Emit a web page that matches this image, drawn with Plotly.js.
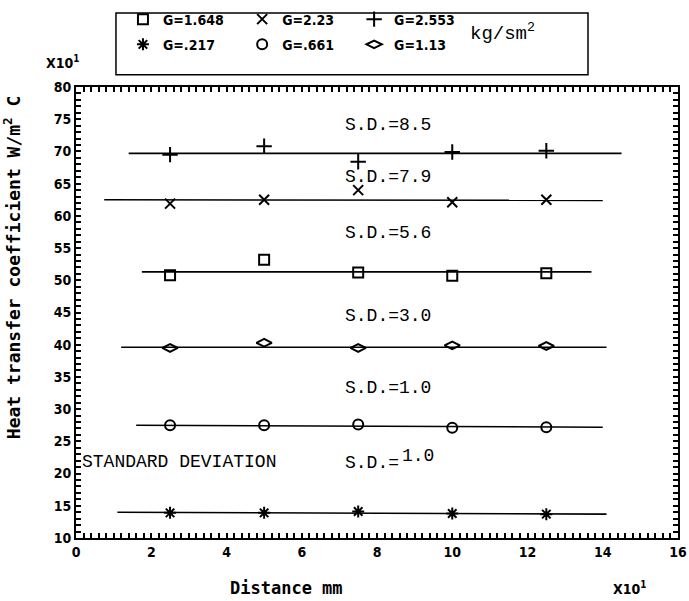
<!DOCTYPE html>
<html>
<head>
<meta charset="utf-8">
<script src="https://cdn.plot.ly/plotly-3.0.1.min.js"></script>
<style>
  html, body { margin: 0; padding: 0; background: #fff; }
  #chart { width: 689px; height: 601px; }
</style>
</head>
<body>
<div id="chart"></div>
<script>
// ---- data (distance in units of 10 mm, h in units of 10 W/m2C) ----
const distance = [2.5, 5, 7.5, 10, 12.5];
const hG1648 = [50.8, 53.2, 51.2, 50.7, 51.1];
const hG223  = [61.9, 62.5, 64.0, 62.1, 62.5];
const hG2553 = [69.5, 70.8, 68.4, 69.9, 70.1];
const hG217  = [13.9, 13.9, 14.1, 13.8, 13.7];
const hG661  = [27.5, 27.5, 27.6, 27.1, 27.2];
const hG113  = [39.5, 40.3, 39.5, 39.9, 39.8];

// fitted (mean) lines: x extent and y at ends
const fitG1648X = [1.75, 13.7], fitG1648Y = [51.3, 51.3];
const fitG223X  = [0.75, 14.0], fitG223Y  = [62.5, 62.4];
const fitG2553X = [1.4, 14.5],  fitG2553Y = [69.7, 69.7];
const fitG217X  = [1.1, 14.1],  fitG217Y  = [14.0, 13.7];
const fitG661X  = [1.6, 14.0],  fitG661Y  = [27.5, 27.2];
const fitG113X  = [1.2, 14.1],  fitG113Y  = [39.6, 39.6];

const seriesNames = ['G=1.648', 'G=2.23', 'G=2.553', 'G=.217', 'G=.661', 'G=1.13'];
const sdLabels = ['S.D.=8.5', 'S.D.=7.9', 'S.D.=5.6', 'S.D.=3.0', 'S.D.=1.0'];

// ---- styling ----
const tickFont = {family: 'DejaVu Sans Condensed, Liberation Sans Narrow, DejaVu Sans', size: 14, color: '#000', weight: 'bold'};
const monoFont = {family: 'Liberation Mono, DejaVu Sans Mono, monospace', size: 18, color: '#000'};
const boldMono = {family: 'DejaVu Sans Mono, Liberation Mono, monospace', size: 17, color: '#000', weight: 'bold'};

function markerTrace(y, name, symbol, size, legend, group) {
  return {
    x: distance, y: y, name: name, mode: 'markers', type: 'scatter',
    marker: {symbol: symbol, size: size, color: '#000', line: {color: '#000', width: 2}},
    legend: legend, legendgroup: group, showlegend: true, hoverinfo: 'skip'
  };
}
function lineTrace(x, y) {
  return {x: x, y: y, mode: 'lines', type: 'scatter', showlegend: false,
          line: {color: '#000', width: 1.6}, hoverinfo: 'skip'};
}

const traces = [
  lineTrace(fitG1648X, fitG1648Y), lineTrace(fitG223X, fitG223Y), lineTrace(fitG2553X, fitG2553Y),
  lineTrace(fitG217X, fitG217Y), lineTrace(fitG661X, fitG661Y), lineTrace(fitG113X, fitG113Y),
  markerTrace(hG1648, seriesNames[0], 'square-open', 10, 'legend', 'a'),
  markerTrace(hG217,  seriesNames[3], 'asterisk-open', 10, 'legend', 'b'),
  markerTrace(hG223,  seriesNames[1], 'x-thin-open', 10, 'legend2', 'c'),
  markerTrace(hG661,  seriesNames[4], 'circle-open', 10, 'legend2', 'd'),
  markerTrace(hG2553, seriesNames[2], 'cross-thin-open', 11, 'legend3', 'e'),
  markerTrace(hG113,  seriesNames[5], 'diamond-wide-open', 11, 'legend3', 'f')
];

function legendAt(xp) {
  return {x: xp, xanchor: 'left', y: 1.185, yanchor: 'top', orientation: 'v',
          bgcolor: 'rgba(0,0,0,0)', borderwidth: 0, tracegroupgap: 4,
          font: {family: tickFont.family, size: 14, color: '#000', weight: 'bold'}};
}

const annotations = sdLabels.map((t, i) => ({
  x: 8.3, y: [74.1, 66.0, 57.4, 44.4, 33.3][i], xref: 'x', yref: 'y',
  text: t, showarrow: false, font: monoFont, xanchor: 'center', yanchor: 'middle'
}));
annotations.push(
  {x: 0.1, y: 21.8, xref: 'x', yref: 'y', text: 'STANDARD DEVIATION', showarrow: false,
   font: monoFont, xanchor: 'left', yanchor: 'middle'},
  {x: 7.1, y: 21.6, xref: 'x', yref: 'y', text: 'S.D.=', showarrow: false,
   font: monoFont, xanchor: 'left', yanchor: 'middle'},
  {x: 8.6, y: 22.8, xref: 'x', yref: 'y', text: '1.0', showarrow: false,
   font: monoFont, xanchor: 'left', yanchor: 'middle'},
  {x: 0.651, y: 1.12, xref: 'paper', yref: 'paper', text: 'kg/sm<sup>2</sup>', showarrow: false,
   font: {family: monoFont.family, size: 19, color: '#000'}, xanchor: 'left', yanchor: 'middle'},
  // axis titles
  {x: 0.35, y: -0.11, xref: 'paper', yref: 'paper', text: 'Distance mm', showarrow: false,
   font: boldMono, xanchor: 'center', yanchor: 'middle'},
  {x: -0.105, y: 0.6, xref: 'paper', yref: 'paper', text: 'Heat transfer coefficient W/m<sup>2</sup> C',
   showarrow: false, textangle: -90, font: {family: boldMono.family, size: 18, color: '#000', weight: 'bold'},
   xanchor: 'center', yanchor: 'middle'},
  // scale multipliers
  {x: 0.92, y: -0.11, xref: 'paper', yref: 'paper', text: 'X10<sup>1</sup>', showarrow: false,
   font: tickFont, xanchor: 'center', yanchor: 'middle'},
  {x: -0.022, y: 1.055, xref: 'paper', yref: 'paper', text: 'X10<sup>1</sup>', showarrow: false,
   font: tickFont, xanchor: 'center', yanchor: 'middle'}
);

const layout = {
  width: 689, height: 601,
  margin: {l: 76, r: 11, t: 87, b: 63, pad: 0, autoexpand: false},
  paper_bgcolor: '#fff', plot_bgcolor: '#fff',
  showlegend: true,
  legend: legendAt(0.078),
  legend2: legendAt(0.276),
  legend3: legendAt(0.462),
  xaxis: {
    range: [0, 16], tickmode: 'linear', tick0: 0, dtick: 0.2, ticklabelstep: 10, tickformat: '.0f',
    ticks: 'inside', ticklen: 5, tickwidth: 1.5, tickcolor: 'black',
    showline: true, linecolor: 'black', linewidth: 2, mirror: 'ticks',
    showgrid: false, zeroline: false, tickfont: tickFont
  },
  yaxis: {
    range: [10, 80], tickmode: 'linear', tick0: 10, dtick: 1, ticklabelstep: 5, tickformat: '.0f',
    ticks: 'inside', ticklen: 5, tickwidth: 1.5, tickcolor: 'black',
    showline: true, linecolor: 'black', linewidth: 2, mirror: 'ticks',
    showgrid: false, zeroline: false, tickfont: tickFont
  },
  shapes: [
    {type: 'rect', xref: 'paper', yref: 'paper', x0: 0.0664, x1: 0.8505, y0: 1.027, y1: 1.164,
     line: {color: 'black', width: 1.5}, fillcolor: 'rgba(0,0,0,0)'}
  ],
  annotations: annotations
};

Plotly.newPlot('chart', traces, layout, {displayModeBar: false});
</script>
</body>
</html>
